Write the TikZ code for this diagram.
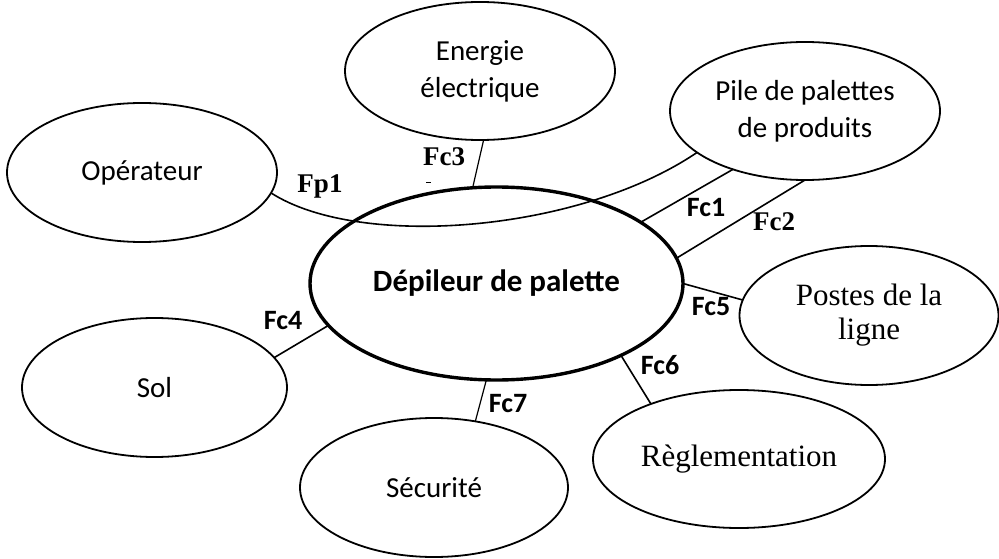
\documentclass[tikz,border=0pt]{standalone}
\usepackage{fontspec}
\setmainfont{Carlito}
\newfontfamily\serifb{Liberation Serif}
\usetikzlibrary{shapes.geometric}
\begin{document}
\begin{tikzpicture}[x=1pt,y=-1pt,
  ell/.style={ellipse, draw, line width=1.8pt, inner sep=0pt, outer sep=0pt,
    align=center, font=\fontsize{29}{37}\selectfont},
  sell/.style={ell, font=\serifb\fontsize{31}{34}\selectfont},
  mainell/.style={ell, line width=3.4pt, font=\bfseries\fontsize{31}{37}\selectfont},
  lab/.style={inner sep=0pt, anchor=base, font=\bfseries\fontsize{28}{30}\selectfont},
  slab/.style={inner sep=0pt, anchor=base, font=\serifb\bfseries\fontsize{27}{30}\selectfont},
  link/.style={line width=1.6pt},
  thin link/.style={line width=1.2pt}
]
\useasboundingbox (0,0) rectangle (999,559);

% ellipses
\node[mainell, minimum width=373pt, minimum height=193pt] (dp) at (496.5,283.5) {Dépileur de palette};
\node[ell, minimum width=270pt, minimum height=139pt] (op) at (142,172.5) {Opérateur};
\node[ell, minimum width=270pt, minimum height=138pt] (en) at (480,71) {Energie\\électrique};
\node[ell, minimum width=270pt, minimum height=138pt] (pile) at (805,111) {Pile de palettes\\de produits};
\node[sell, minimum width=259pt, minimum height=139pt] (po) at (869,315.5) {Postes de la\\ligne};
\node[sell, minimum width=292pt, minimum height=138pt] (re) at (739,459) {Règlementation};
\node[ell, minimum width=265pt, minimum height=139pt] (sol) at (154.5,387.5) {Sol};
\node[ell, minimum width=268pt, minimum height=139pt] (se) at (434,487.5) {Sécurité};

% connectors
\draw[link] (op.-9) .. controls (360,250) and (580,232) .. (pile.201.25);
\draw[thin link] (en.-87.5) -- (dp.104.25);
\draw[link] (pile.219.8) -- (dp.23.5);
\draw[link] (pile.-90) -- (dp.8.35);
\draw[link] (dp.0) -- (po.173.1);
\draw[link] (dp.-30.6) -- (re.148.6);
\draw[thin link] (dp.264.4) -- (se.58.3);
\draw[link] (dp.194.7) -- (sol.14.5);
\draw[line width=1pt] (426,183) -- (431,183);

% labels
\node[slab] (lfp1) at (320,193) {Fp1};
\node[slab] (lfc3) at (444,165) {Fc3};
\node[slab] (lfc2) at (774,230) {Fc2};
\node[lab] (lfc1) at (706,216.5) {Fc1};
\node[lab] (lfc5) at (711,315.5) {Fc5};
\node[lab] (lfc4) at (283,329) {Fc4};
\node[lab] (lfc6) at (660,374) {Fc6};
\node[lab] (lfc7) at (508,412.5) {Fc7};
\end{tikzpicture}
\end{document}
